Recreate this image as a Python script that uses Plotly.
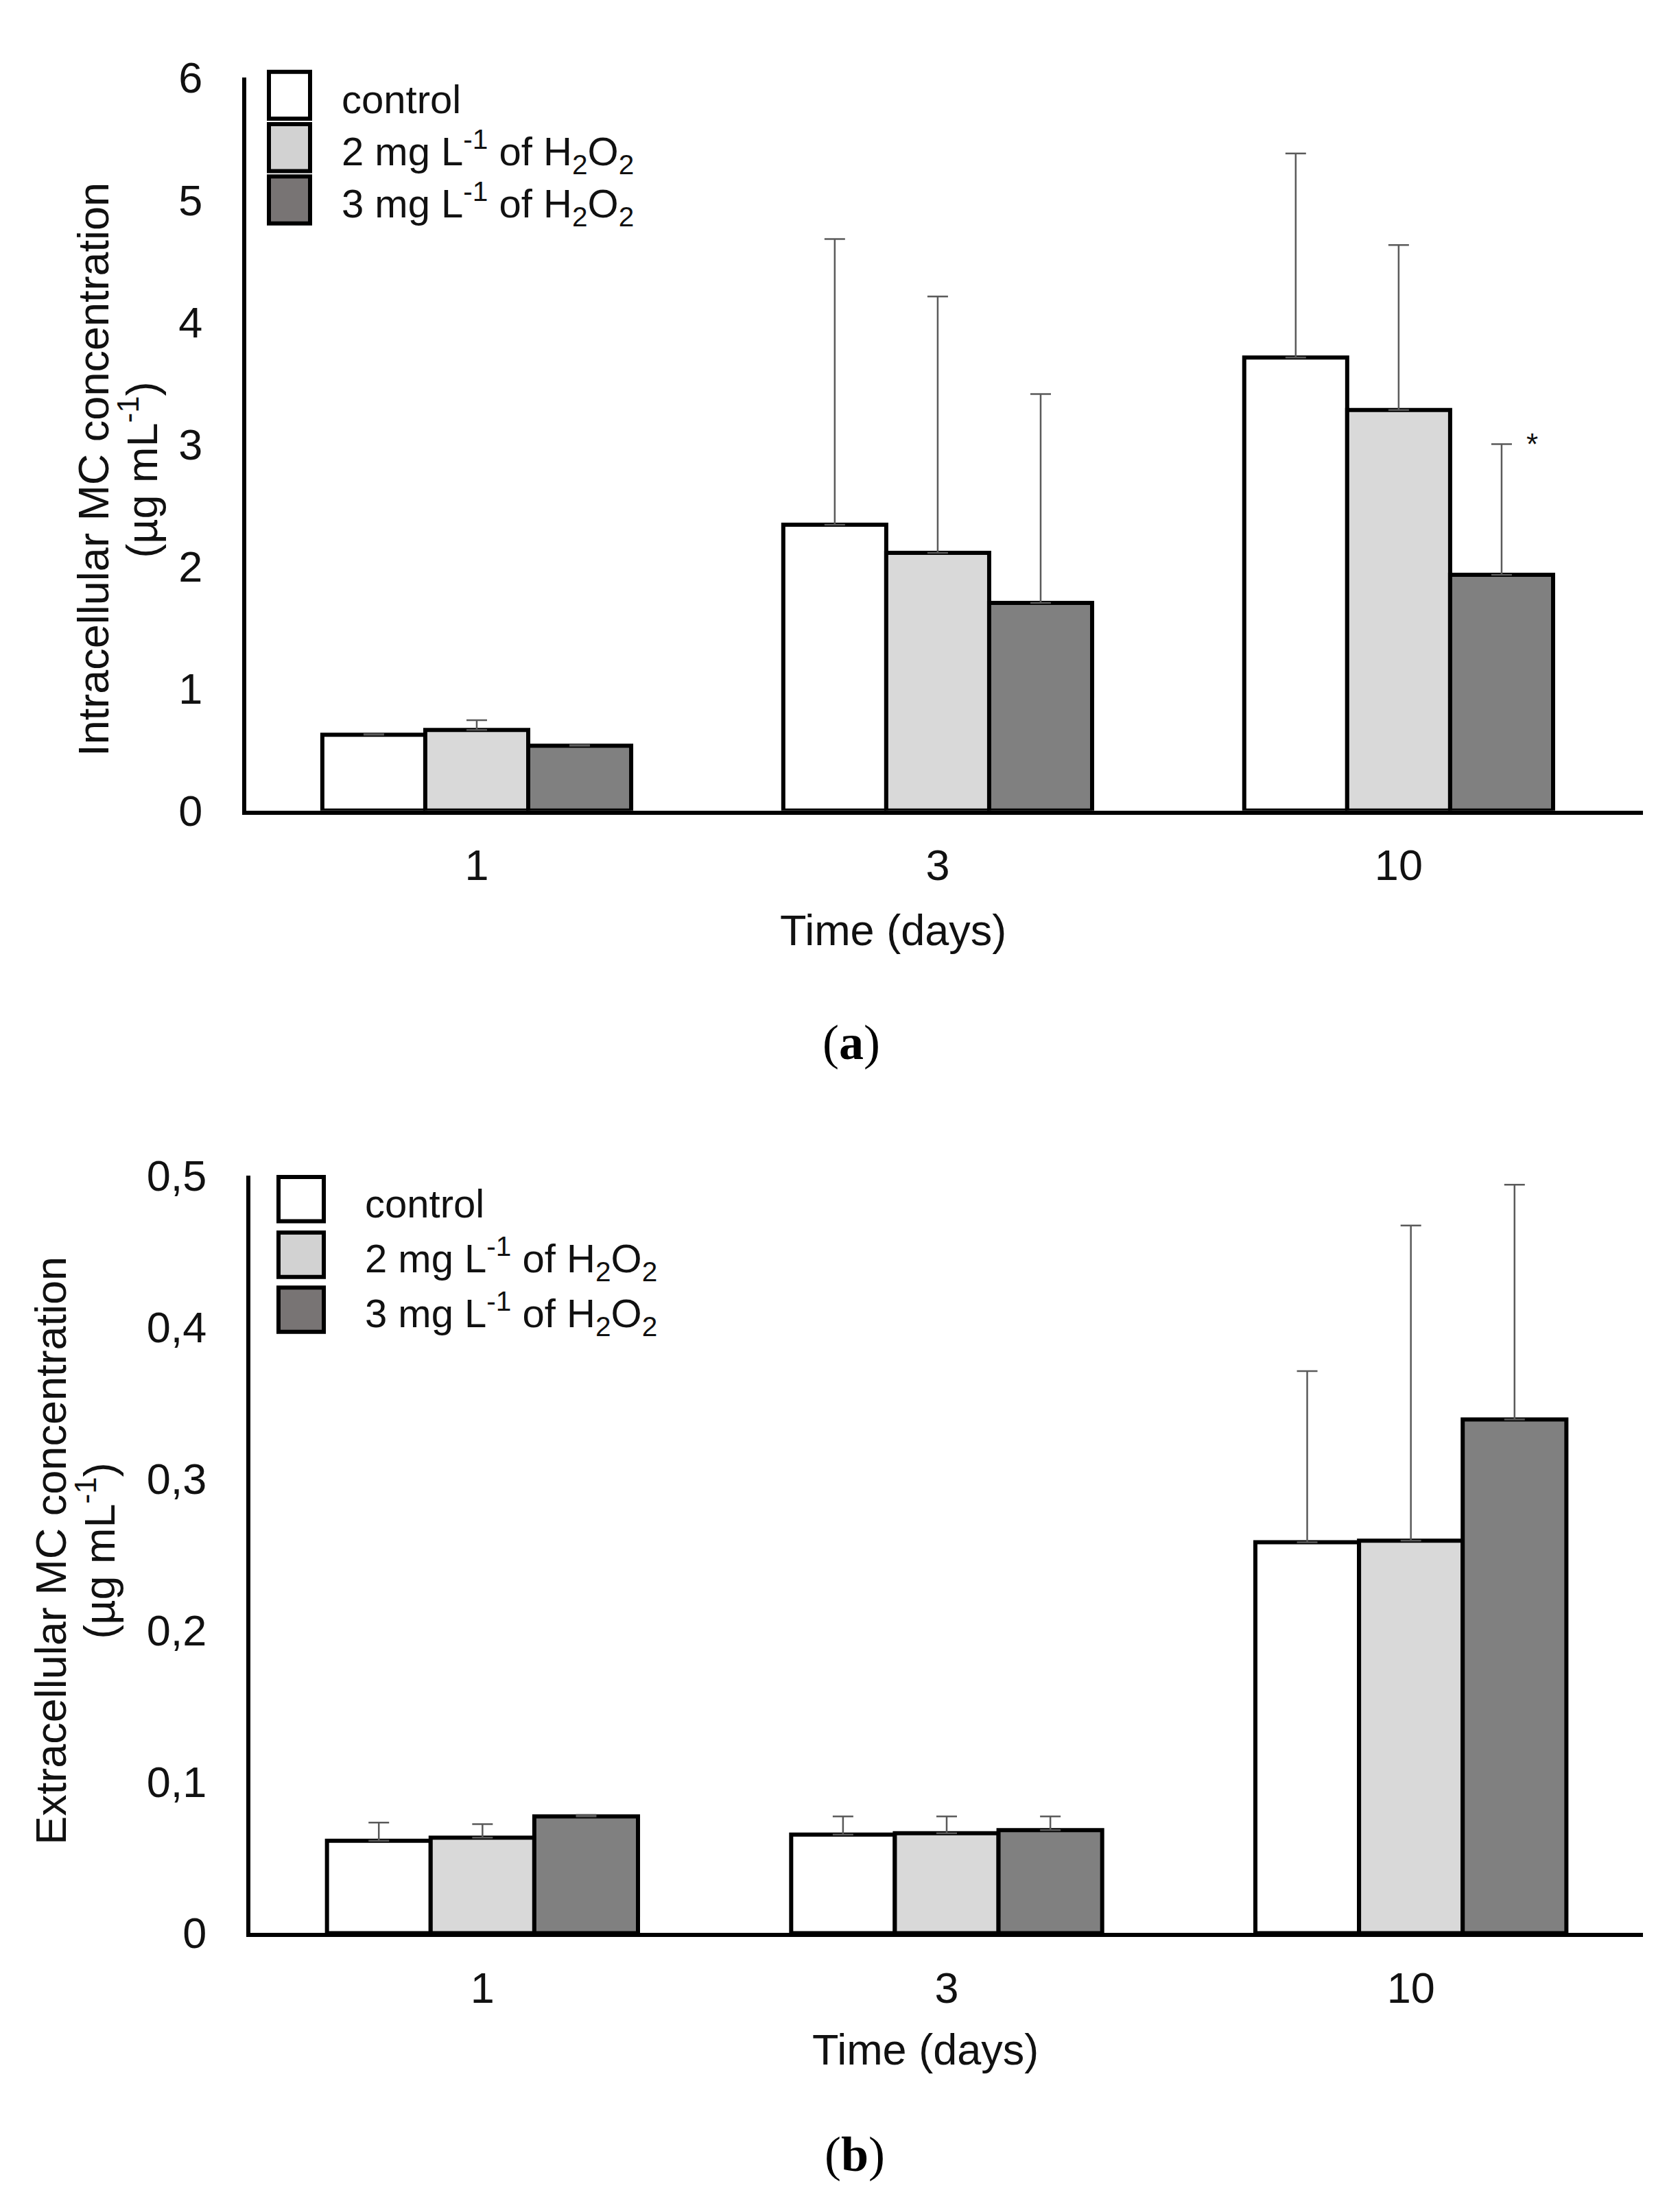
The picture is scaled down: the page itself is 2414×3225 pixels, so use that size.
import plotly.graph_objects as go

W, H = 2414, 3225

days = ['1', '3', '10']
labels = ['control',
          '2 mg L<sup>-1</sup> of H<sub>2</sub>O<sub>2</sub>',
          '3 mg L<sup>-1</sup> of H<sub>2</sub>O<sub>2</sub>']

# (a) intracellular MC, µg/mL  (mean + upper SD)
intra_control = [0.62, 2.34, 3.71]
intra_control_sd = [0.005, 2.34, 1.67]
intra_2mg = [0.66, 2.11, 3.28]
intra_2mg_sd = [0.08, 2.10, 1.35]
intra_3mg = [0.53, 1.70, 1.93]
intra_3mg_sd = [0.005, 1.71, 1.07]

# (b) extracellular MC, µg/mL
extra_control = [0.061, 0.065, 0.258]
extra_control_sd = [0.012, 0.012, 0.113]
extra_2mg = [0.063, 0.066, 0.259]
extra_2mg_sd = [0.009, 0.011, 0.208]
extra_3mg = [0.077, 0.068, 0.339]
extra_3mg_sd = [0.001, 0.009, 0.155]

bar_colors = ['#ffffff', '#d9d9d9', '#808080']
swatch_colors = ['#ffffff', '#d2d2d2', '#787474']
FONT = 'Liberation Sans, Arial, sans-serif'


def px(x):
    return x / W


def py(y):
    return 1 - y / H


fig = go.Figure()

panels = [
    ('x', 'y', [intra_control, intra_2mg, intra_3mg],
     [intra_control_sd, intra_2mg_sd, intra_3mg_sd]),
    ('x2', 'y2', [extra_control, extra_2mg, extra_3mg],
     [extra_control_sd, extra_2mg_sd, extra_3mg_sd]),
]

for xa, ya, means, sds in panels:
    for i in range(3):
        fig.add_trace(go.Bar(
            x=days, y=means[i], name=labels[i],
            xaxis=xa, yaxis=ya, showlegend=False,
            marker=dict(color=bar_colors[i], line=dict(color='black', width=6)),
            error_y=dict(type='data', array=sds[i], arrayminus=[0] * 3,
                         symmetric=False, color='#5a5a5a', thickness=2.5, width=15),
        ))

axis_common = dict(showgrid=False, zeroline=False, showline=True, linecolor='black',
                   linewidth=6, ticks='', tickfont=dict(family=FONT, size=63, color='#111'))

fig.update_layout(
    width=W, height=H,
    margin=dict(l=0, r=0, t=0, b=0),
    paper_bgcolor='white', plot_bgcolor='white',
    barmode='group', bargap=0.33, bargroupgap=0,
    separators=', ',
    font=dict(family=FONT, color='#111'),
    xaxis=dict(domain=[px(351), px(2387)], anchor='y', type='category',
               range=[-0.5, 2.53], ticklabelstandoff=20, **axis_common),
    yaxis=dict(domain=[py(1164), py(72)], anchor='x', range=[0, 6], dtick=1,
               ticklabelstandoff=45, **axis_common),
    xaxis2=dict(domain=[px(357), px(2387)], anchor='y2', type='category',
                range=[-0.5, 2.5], ticklabelstandoff=20, **axis_common),
    yaxis2=dict(domain=[py(2837), py(1708)], anchor='x2', range=[0, 0.5], dtick=0.1,
                tickformat='.1~f', ticklabelstandoff=45, **axis_common),
)


def note(text, x, y, size, **kw):
    d = dict(text=text, xref='paper', yref='paper', x=px(x), y=py(y),
             xanchor='center', yanchor='middle', showarrow=False,
             font=dict(family=FONT, size=size, color='#111'))
    d.update(kw)
    return d


# legends drawn as boxes + text (bar swatches in plotly legends are too small)
legend_boxes = [
    (384, 444, [63, 141, 219], 70, 488),
    (398, 464, [1710, 1793, 1875], 66, 522),
]
shapes = []
annotations = []
for x0, x1, tops, h, tx in legend_boxes:
    for i in range(3):
        shapes.append(dict(type='rect', xref='paper', yref='paper',
                           x0=px(x0), x1=px(x1), y0=py(tops[i] + h), y1=py(tops[i]),
                           fillcolor=swatch_colors[i], line=dict(color='black', width=6)))
        annotations.append(note(labels[i], tx, tops[i] + h / 2 + 6, 58, xanchor='left'))

# axis titles
annotations.append(note('Time (days)', 1294, 1342, 63))
annotations.append(note('Time (days)', 1341, 3010, 63))
annotations.append(note('Intracellular MC concentration', 128, 656, 63, textangle=-90))
annotations.append(note('(µg mL<sup>-1</sup>)', 194, 656, 63, textangle=-90))
annotations.append(note('Extracellular MC concentration', 66, 2267, 63, textangle=-90))
annotations.append(note('(µg mL<sup>-1</sup>)', 132, 2267, 63, textangle=-90))

# panel labels
serif = dict(family='Liberation Serif, Times New Roman, serif', size=72, color='black')
annotations.append(note('(<b>a</b>)', 1233, 1510, 72, font=serif))
annotations.append(note('(<b>b</b>)', 1238, 3167, 72, font=serif))

# significance mark on day 10, 3 mg/L
annotations.append(dict(text='*', xref='x', yref='y', x=2.29,
                        y=intra_3mg[2] + intra_3mg_sd[2], xanchor='center', yanchor='middle',
                        showarrow=False, font=dict(family=FONT, size=44, color='#111')))

fig.update_layout(shapes=shapes, annotations=annotations)

fig.write_html('out.html')
